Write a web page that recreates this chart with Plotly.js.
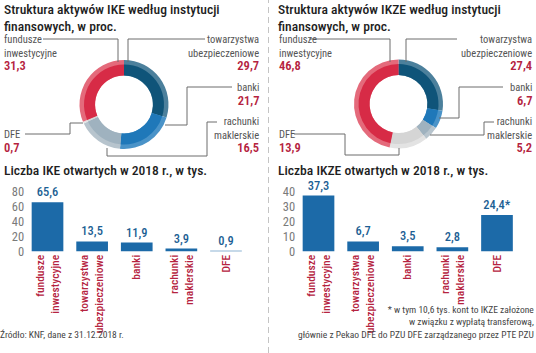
<!DOCTYPE html>
<html>
<head>
<meta charset="utf-8">
<script src="https://cdn.plot.ly/plotly-3.0.1.min.js"></script>
<style>
html,body{margin:0;padding:0;background:#fff;}
#chart{width:536px;height:353px;}
text{font-stretch:75% !important;}
</style>
</head>
<body>
<div id="chart"></div>
<script>
// ---- data ----
const categories = ['fundusze inwestycyjne', 'towarzystwa ubezpieczeniowe', 'banki', 'rachunki maklerskie', 'DFE'];
const tickLabels = ['fundusze<br>inwestycyjne', 'towarzystwa<br>ubezpieczeniowe', 'banki', 'rachunki<br>maklerskie', 'DFE'];
const ikeShare = [31.3, 29.7, 21.7, 16.5, 0.7];
const ikzeShare = [46.8, 27.4, 6.7, 5.2, 13.9];
const ikeOpened = [65.6, 13.5, 11.9, 3.9, 0.9];
const ikzeOpened = [37.3, 6.7, 3.5, 2.8, 24.4];
const ikzeNoteMarks = ['', '', '', '', '*'];
const ikeTicks = [0, 20, 40, 60, 80];
const ikzeTicks = [0, 10, 20, 30, 40];

// ---- styles ----
const FONT = 'Roboto, "Open Sans", "DejaVu Sans Condensed", sans-serif';
const W = 536, H = 353;
const RED = '#b52340', BLUE = '#1c6aa8', LBL_BLUE = '#1d5f94', GRAY = '#555', LINE = '#6d6d6d';
const pieOrder = [1, 2, 3, 4, 0];
const mainColors = ['#d72b46', '#0f5479', '#1f78b9', '#9fb2bf', '#d5d5d5'];
const lightColors = ['#e46a7b', '#4c809c', '#4a93c8', '#b7c4cd', '#e3e3e3'];
const fmt = v => v.toFixed(1).replace('.', ',');
const px = x => x / W, py = y => 1 - y / H;

function donut(values, cx, cy, r, hole, colors) {
  return {
    type: 'pie', values: pieOrder.map(i => values[i]), labels: pieOrder.map(i => categories[i]),
    marker: {colors: pieOrder.map(i => colors[i]), line: {width: 0}},
    sort: false, direction: 'clockwise', rotation: 0, hole: hole, textinfo: 'none', hoverinfo: 'skip',
    domain: {x: [px(cx - r), px(cx + r)], y: [py(cy + r), py(cy - r)]}, showlegend: false
  };
}

const barText = {family: FONT, size: 12.5, color: LBL_BLUE, weight: 500};
const traces = [
  donut(ikeShare, 124, 104.5, 44.5, 0.65, lightColors),
  donut(ikeShare, 124, 104.5, 40, 0.725, mainColors),
  donut(ikzeShare, 398.5, 104, 44.5, 0.65, lightColors),
  donut(ikzeShare, 398.5, 104, 40, 0.725, mainColors),
  {type: 'bar', x: categories, y: ikeOpened, xaxis: 'x', yaxis: 'y', marker: {color: BLUE},
   text: ikeOpened.map(fmt), textposition: 'outside', cliponaxis: false, constraintext: 'none',
   textfont: barText, hoverinfo: 'skip'},
  {type: 'bar', x: categories, y: ikzeOpened, xaxis: 'x2', yaxis: 'y2', marker: {color: BLUE},
   text: ikzeOpened.map((v, i) => fmt(v) + ikzeNoteMarks[i]), textposition: 'outside', cliponaxis: false, constraintext: 'none',
   textfont: barText, hoverinfo: 'skip'}
];

const xCommon = {type: 'category', range: [-0.5, 4.5], tickvals: categories, ticktext: tickLabels, tickangle: -90,
  showgrid: false, zeroline: false, showline: false, ticks: '', tickfont: {family: FONT, size: 11.5, color: RED, weight: 500}, fixedrange: true};
const yCommon = {showgrid: false, zeroline: false, showline: false, ticks: '',
  tickfont: {family: FONT, size: 12.5, color: '#7a7a7a'}, fixedrange: true};

const ann = [];
function t(text, x, y, opts) {
  ann.push(Object.assign({text: text, x: px(x), y: py(y), xref: 'paper', yref: 'paper', showarrow: false,
    xanchor: 'left', yanchor: 'middle', borderpad: 0, font: {family: FONT, size: 10.5, color: GRAY}}, opts || {}));
}
function label(lines, value, x, yCenter, right) {
  const txt = lines.concat(['<span style="color:' + RED + ';font-size:12.5px;font-weight:600">' + value + '</span>']).join('<br>');
  t(txt, x, yCenter, {xanchor: right ? 'right' : 'left', align: right ? 'right' : 'left'});
}
const TITLE = {family: FONT, size: 13.6, color: '#1e1e1e', weight: 550};

// titles
t('Struktura aktywów IKE według instytucji', 3, 9.5, {font: TITLE});
t('finansowych, w proc.', 3, 25.5, {font: TITLE});
t('Struktura aktywów IKZE według instytucji', 277, 9.5, {font: TITLE});
t('finansowych, w proc.', 277, 25.5, {font: TITLE});
t('Liczba IKE otwartych w 2018 r., w tys.', 3, 169.5, {font: TITLE});
t('Liczba IKZE otwartych w 2018 r., w tys.', 277, 169.5, {font: TITLE});

// donut labels
function donutLabels(shares, L, R) {
  label(['fundusze', 'inwestycyjne'], fmt(shares[0]), L, 52.6);
  label(['towarzystwa', 'ubezpieczeniowe'], fmt(shares[1]), R, 52.6, true);
  label(['banki'], fmt(shares[2]), R, 94.5, true);
  label(['rachunki', 'maklerskie'], fmt(shares[3]), R, 134.5, true);
  label(['DFE'], fmt(shares[4]), L, 141);
}
donutLabels(ikeShare, 3, 260);
donutLabels(ikzeShare, 278, 533);

// footnotes
const NOTE = {family: FONT, size: 9.5, color: '#444'};
t('Źródło: KNF, dane z 31.12.2018 r.', -1, 334, {font: NOTE});
t('* w tym 10,6 tys. kont to IKZE założone<br>w związku z wypłatą transferową,<br>głównie z Pekao DFE do PZU DFE zarządzanego przez PTE PZU',
  535, 322, {xanchor: 'right', align: 'right', font: NOTE});

// leader lines
const shapes = [];
function path(pts) {
  shapes.push({type: 'path', xref: 'paper', yref: 'paper',
    path: 'M' + pts.map(p => px(p[0]) + ',' + py(p[1])).join(' L'), line: {color: LINE, width: 1}});
}
// IKE
path([[43, 39], [118, 39], [118, 62]]);
path([[128, 62], [128, 39], [205, 39]]);
path([[232, 87], [187, 87], [187, 125], [165, 125]]);
path([[217, 122], [207, 122], [207, 156], [107, 156], [107, 148]]);
path([[25, 134], [70, 134], [70, 123], [83, 123]]);
// IKZE
path([[309, 39], [390, 39], [390, 62]]);
path([[406, 62], [406, 39], [457, 39]]);
path([[503, 87], [459, 87], [459, 118], [439, 118]]);
path([[494, 122], [484, 122], [484, 135], [430, 135]]);
path([[294, 134], [345, 134], [345, 155], [399, 155], [399, 148]]);
// separator
shapes.push({type: 'line', xref: 'paper', yref: 'paper', x0: px(268.5), x1: px(268.5), y0: 0, y1: 1,
  line: {color: '#c4c4c4', width: 1, dash: '6px,4px'}});

const yDom = [py(251.5), py(191.5)];
const layout = {
  width: W, height: H, margin: {l: 0, r: 0, t: 0, b: 0}, paper_bgcolor: '#fff', plot_bgcolor: 'rgba(0,0,0,0)',
  showlegend: false, separators: ', ', bargap: 0.29, font: {family: FONT},
  xaxis: Object.assign({}, xCommon, {domain: [px(25.2), px(248.3)], anchor: 'y'}),
  yaxis: Object.assign({}, yCommon, {domain: yDom, range: [0, 80], tickvals: ikeTicks, anchor: 'x'}),
  xaxis2: Object.assign({}, xCommon, {domain: [px(296.2), px(519.3)], anchor: 'y2'}),
  yaxis2: Object.assign({}, yCommon, {domain: yDom, range: [0, 40], tickvals: ikzeTicks, anchor: 'x2'}),
  annotations: ann, shapes: shapes
};
Plotly.newPlot('chart', traces, layout, {staticPlot: true, displayModeBar: false});
</script>
</body>
</html>
